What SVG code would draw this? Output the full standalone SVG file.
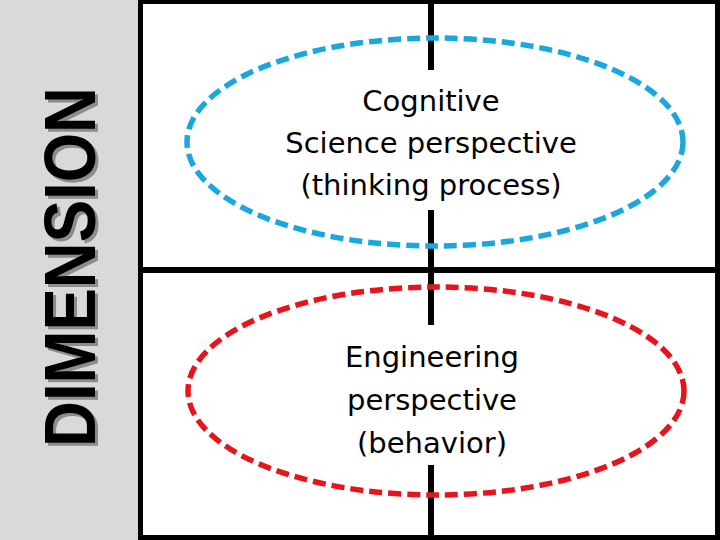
<svg xmlns="http://www.w3.org/2000/svg" width="720" height="540" viewBox="0 0 720 540">
<style>
.lbl{font-family:"DejaVu Sans",Verdana,sans-serif;font-size:29px;fill:#000;text-anchor:middle}
.dim{font-family:"Liberation Sans",Arial,sans-serif;font-size:72px;font-weight:bold;text-anchor:middle}
.ln{stroke:#000;stroke-width:6;fill:none}
.ell{fill:none;stroke-width:5.5;stroke-dasharray:13 6}
</style>
<rect x="0" y="0" width="720" height="540" fill="#d9d9d9"/>
<g id="dimension">
<text class="dim" transform="translate(98,270) rotate(-90)" textLength="360" lengthAdjust="spacingAndGlyphs" fill="#8c8c8c">DIMENSION</text>
<text class="dim" transform="translate(95,267) rotate(-90)" textLength="360" lengthAdjust="spacingAndGlyphs" fill="#000">DIMENSION</text>
</g>
<g id="frame">
<rect x="140.5" y="1.5" width="577" height="536" fill="#fff" stroke="#000" stroke-width="5"/>
<line class="ln" x1="140" y1="270" x2="720" y2="270"/>
</g>
<g id="connectors">
<line class="ln" x1="431" y1="0" x2="431" y2="70"/>
<line class="ln" x1="431" y1="210" x2="431" y2="325"/>
<line class="ln" x1="431" y1="465" x2="431" y2="540"/>
</g>
<g id="cognitive">
<ellipse class="ell" cx="435" cy="142" rx="248" ry="104" stroke="#1aa7e0"/>
<text class="lbl" x="431" y="111">Cognitive</text>
<text class="lbl" x="431" y="153">Science perspective</text>
<text class="lbl" x="431" y="195">(thinking process)</text>
</g>
<g id="engineering">
<ellipse class="ell" cx="436" cy="391" rx="248" ry="104" stroke="#e8141b"/>
<text class="lbl" x="432" y="367">Engineering</text>
<text class="lbl" x="432" y="410">perspective</text>
<text class="lbl" x="432" y="453">(behavior)</text>
</g>
</svg>
